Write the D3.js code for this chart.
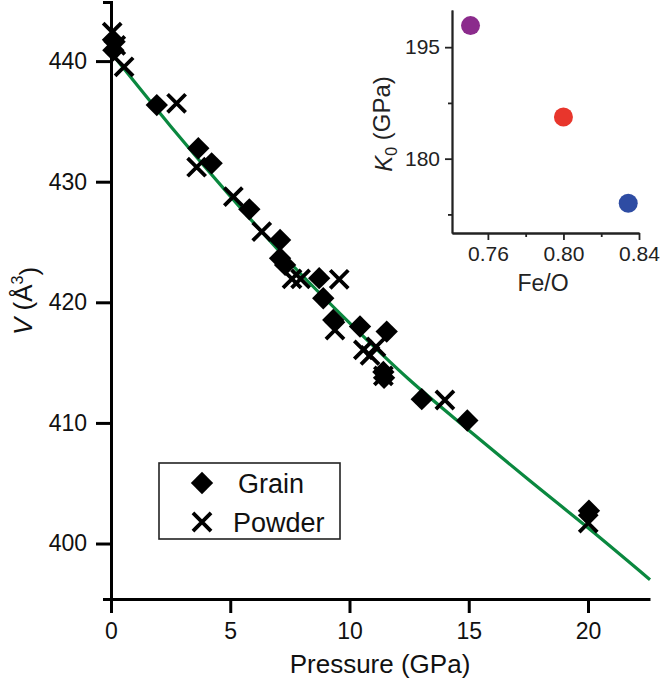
<!DOCTYPE html>
<html>
<head>
<meta charset="utf-8">
<script src="https://cdn.jsdelivr.net/npm/d3@7"></script>
<style>
  body { margin: 0; background: #fff; }
  svg { display: block; font-family: "Liberation Sans", Arial, sans-serif; }
</style>
</head>
<body>
<svg id="chart"></svg>
<script>
// values
const grainP = [0.15, 0.1, 1.92, 3.66, 4.22, 5.80, 7.09, 7.09, 7.3, 8.73, 8.9, 9.32, 10.44, 11.56, 11.42, 11.45, 13.03, 14.94, 20.04];
const grainV = [441.6, 440.9, 436.35, 432.77, 431.52, 427.71, 425.17, 423.65, 423.1, 422.0, 420.34, 418.54, 417.99, 417.57, 414.23, 413.74, 411.97, 410.2, 402.72];

const powderP = [0.05, 0.2, 0.55, 2.75, 3.59, 5.13, 6.32, 7.59, 7.95, 9.57, 9.39, 10.58, 10.86, 11.11, 11.42, 14.0, 20.01];
const powderV = [442.4, 441.3, 439.53, 436.5, 431.2, 428.76, 425.86, 421.94, 421.94, 421.91, 417.7, 416.06, 415.6, 416.3, 413.9, 411.9, 401.7];

const fitP = [0, 2.5, 5, 7.5, 10, 12.5, 15, 17.5, 20, 22.6];
const fitV = [440.7, 434.6, 428.8, 423.3, 418.3, 413.6, 409.4, 405.3, 401.3, 397.0];

const pressureTicks = [0, 5, 10, 15, 20];
const volumeTicks = [400, 410, 420, 430, 440];
const legendLabels = ['Grain', 'Powder'];

// inset
const feO = [0.7508, 0.8000, 0.8343];
const k0 = [197.9, 185.6, 174.0];
const feOTicks = [0.76, 0.80, 0.84];
const feOMinor = [0.78, 0.82];
const k0Ticks = [180, 195];
const k0Minor = [172.5, 187.5];

const k0Colors = ['#8b2b8c', '#e8362c', '#2e4ca3'];
const fitColor = '#0a883f';

const width = 660, height = 684;

const svg = d3.select('#chart')
  .attr('width', width)
  .attr('height', height);

const x = d3.scaleLinear().domain([0, 22.6]).range([111, 650]);
const y = d3.scaleLinear().domain([395.4, 444.9]).range([599, 2]);

// y axis
const yAxis = svg.append('g')
  .attr('transform', 'translate(111,0)')
  .call(d3.axisLeft(y).tickValues(volumeTicks).tickSize(15).tickSizeOuter(8).tickPadding(9));

// x axis
const xAxis = svg.append('g')
  .attr('transform', 'translate(0,599)')
  .call(d3.axisBottom(x).tickValues(pressureTicks).tickSize(14).tickSizeOuter(0).tickPadding(10));

[xAxis, yAxis].forEach(g => {
  g.select('.domain').attr('stroke', '#000').attr('stroke-width', 3);
  g.selectAll('.tick line').attr('stroke', '#000').attr('stroke-width', 3);
  g.selectAll('.tick text')
    .attr('fill', '#111')
    .style('font-size', '23px')
    .style('font-family', '"Liberation Sans", Arial, sans-serif');
});

// axis titles
svg.append('text')
  .attr('x', 380)
  .attr('y', 673)
  .attr('text-anchor', 'middle')
  .attr('fill', '#111')
  .style('font-size', '26px')
  .text('Pressure (GPa)');

const yTitle = svg.append('text')
  .attr('transform', 'translate(32,301) rotate(-90)')
  .attr('text-anchor', 'middle')
  .attr('fill', '#111')
  .style('font-size', '26px');
yTitle.append('tspan').style('font-style', 'italic').text('V');
yTitle.append('tspan').text(' (Å');
yTitle.append('tspan').attr('dy', '-0.55em').style('font-size', '16px').text('3');
yTitle.append('tspan').attr('dy', '0.55em').text(')');

// fitted curve
const fitData = fitP.map((p, i) => ({p: p, v: fitV[i]}));
const line = d3.line()
  .x(d => x(d.p))
  .y(d => y(d.v))
  .curve(d3.curveMonotoneX);

svg.append('path')
  .datum(fitData)
  .attr('fill', 'none')
  .attr('stroke', fitColor)
  .attr('stroke-width', 3.2)
  .attr('d', line);

// markers
const diamond = d3.symbol().type(d3.symbolSquare).size(250);
const cross = d3.symbol().type(d3.symbolTimes).size(215);

const grain = grainP.map((p, i) => ({p: p, v: grainV[i]}));
const powder = powderP.map((p, i) => ({p: p, v: powderV[i]}));

svg.selectAll('.grain')
  .data(grain)
  .enter().append('path')
  .attr('class', 'grain')
  .attr('d', diamond)
  .attr('fill', '#000')
  .attr('transform', d => `translate(${x(d.p)},${y(d.v)}) rotate(45)`);

svg.selectAll('.powder')
  .data(powder)
  .enter().append('path')
  .attr('class', 'powder')
  .attr('d', cross)
  .attr('fill', 'none')
  .attr('stroke', '#000')
  .attr('stroke-width', 3.8)
  .attr('transform', d => `translate(${x(d.p)},${y(d.v)})`);

// legend
const legend = svg.append('g');
legend.append('rect')
  .attr('x', 159)
  .attr('y', 463)
  .attr('width', 181)
  .attr('height', 76)
  .attr('fill', '#fff')
  .attr('stroke', '#222')
  .attr('stroke-width', 1.6);

legendLabels.forEach((label, i) => {
  const ly = 483 + i * 39;
  if (i === 0) {
    legend.append('path')
      .attr('d', diamond)
      .attr('transform', `translate(202,${ly}) rotate(45)`)
      .attr('fill', '#000');
  } else {
    legend.append('path')
      .attr('d', cross)
      .attr('transform', `translate(202,${ly})`)
      .attr('fill', 'none')
      .attr('stroke', '#000')
      .attr('stroke-width', 3.8);
  }
  legend.append('text')
    .attr('x', i === 0 ? 238 : 233)
    .attr('y', ly + 10)
    .attr('fill', '#111')
    .style('font-size', '27px')
    .text(label);
});

// inset
const ix = d3.scaleLinear().domain([0.741, 0.84]).range([452, 639]);
const iy = d3.scaleLinear().domain([170, 200]).range([233, 10]);

const inset = svg.append('g');

const ixAxis = inset.append('g')
  .attr('transform', 'translate(0,233)')
  .call(d3.axisBottom(ix).tickValues(feOTicks).tickFormat(d3.format('.2f')).tickSize(7).tickSizeOuter(0).tickPadding(6));
const ixMinor = inset.append('g')
  .attr('transform', 'translate(0,233)')
  .call(d3.axisBottom(ix).tickValues(feOMinor).tickFormat('').tickSize(4).tickSizeOuter(0));

const iyAxis = inset.append('g')
  .attr('transform', 'translate(452,0)')
  .call(d3.axisLeft(iy).tickValues(k0Ticks).tickSize(7).tickSizeOuter(0).tickPadding(5));
const iyMinor = inset.append('g')
  .attr('transform', 'translate(452,0)')
  .call(d3.axisLeft(iy).tickValues(k0Minor).tickFormat('').tickSize(4).tickSizeOuter(0));

[ixAxis, ixMinor, iyAxis, iyMinor].forEach(g => {
  g.select('.domain').attr('stroke', '#222').attr('stroke-width', 1.8);
  g.selectAll('.tick line').attr('stroke', '#222').attr('stroke-width', 1.8);
  g.selectAll('.tick text')
    .attr('fill', '#222')
    .style('font-size', '21px')
    .style('font-family', '"Liberation Sans", Arial, sans-serif');
});

inset.selectAll('circle')
  .data(feO)
  .enter().append('circle')
  .attr('cx', d => ix(d))
  .attr('cy', (d, i) => iy(k0[i]))
  .attr('r', 9.5)
  .attr('fill', (d, i) => k0Colors[i]);

inset.append('text')
  .attr('x', 543)
  .attr('y', 291)
  .attr('text-anchor', 'middle')
  .attr('fill', '#222')
  .style('font-size', '23px')
  .text('Fe/O');

const iyTitle = inset.append('text')
  .attr('transform', 'translate(392,124) rotate(-90)')
  .attr('text-anchor', 'middle')
  .attr('fill', '#222')
  .style('font-size', '24px');
iyTitle.append('tspan').style('font-style', 'italic').text('K');
iyTitle.append('tspan').attr('dy', '0.3em').style('font-size', '16px').text('0');
iyTitle.append('tspan').attr('dy', '-0.3em').text(' (GPa)');
</script>
</body>
</html>
